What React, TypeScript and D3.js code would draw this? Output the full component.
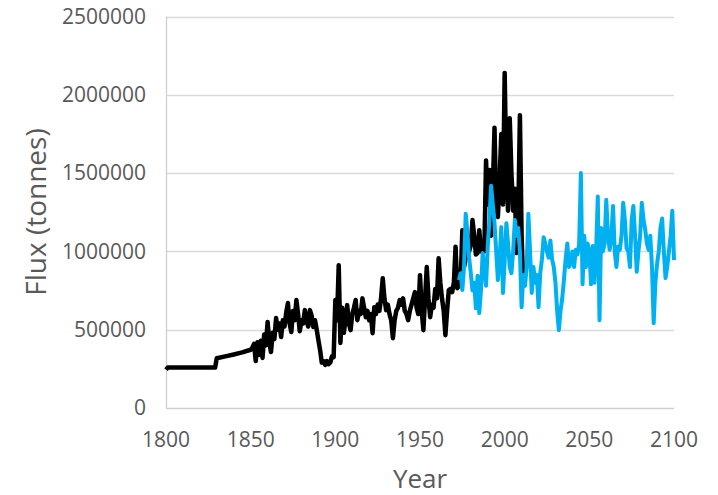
import React, { useEffect, useRef } from "react";
import * as d3 from "d3";

// Historical flux (black), thousands of tonnes
const histYears = [
  1800, 1801, 1829, 1830, 1835, 1840, 1845, 1850, 1851, 1852, 1853, 1854, 1855, 1856, 1857, 1858, 1859,
  1860, 1861, 1862, 1863, 1864, 1865, 1866, 1867, 1868, 1869, 1870, 1871, 1872, 1873, 1874, 1875, 1876,
  1877, 1878, 1879, 1880, 1881, 1882, 1883, 1884, 1885, 1886, 1887, 1888, 1889, 1890, 1891, 1892, 1893,
  1894, 1895, 1896, 1897, 1898, 1899, 1900, 1901, 1902, 1903, 1904, 1905, 1906, 1907, 1908, 1909, 1910,
  1911, 1912, 1913, 1914, 1915, 1916, 1917, 1918, 1919, 1920, 1921, 1922, 1923, 1924, 1925, 1926, 1927,
  1928, 1929, 1930, 1931, 1932, 1933, 1934, 1935, 1936, 1937, 1938, 1939, 1940, 1941, 1942, 1943, 1944,
  1945, 1946, 1947, 1948, 1949, 1950, 1951, 1952, 1953, 1954, 1955, 1956, 1957, 1958, 1959, 1960, 1961,
  1962, 1963, 1964, 1965, 1966, 1967, 1968, 1969, 1970, 1971, 1972, 1973, 1974, 1975, 1976, 1977, 1978,
  1979, 1980, 1981, 1982, 1983, 1984, 1985, 1986, 1987, 1988, 1989, 1990, 1991, 1992, 1993, 1994, 1995,
  1996, 1997, 1998, 1999, 2000, 2001, 2002, 2003, 2004, 2005, 2006, 2007, 2008, 2009, 2010, 2011,
];
const histFlux = [
  245, 258, 258, 318, 330, 342, 355, 372, 385, 410, 300, 420, 340, 430, 320, 470, 400,
  549, 420, 357, 480, 440, 574, 500, 540, 453, 560, 520, 610, 670, 540, 485, 620, 560,
  689, 600, 490, 560, 540, 625, 560, 520, 625, 590, 517, 560, 500, 434, 370, 290, 300,
  275, 300, 280, 290, 330, 325, 690, 560, 912, 415, 640, 480, 560, 657, 540, 497, 600,
  640, 690, 561, 620, 600, 700, 640, 580, 620, 560, 600, 478, 644, 600, 660, 620, 700,
  829, 700, 625, 660, 600, 560, 446, 560, 620, 640, 690, 660, 700, 620, 600, 561, 620,
  660, 700, 740, 640, 600, 848, 620, 497, 700, 900, 700, 580, 660, 640, 760, 700, 956,
  800, 700, 620, 465, 620, 753, 760, 740, 800, 1030, 765, 780, 800, 1135, 900, 960, 1090,
  1000, 1040, 1200, 1100, 980, 989, 1135, 1000, 1060, 1000, 1580, 1300, 1520, 1100, 1400, 1790, 1300,
  1220, 1450, 1750, 1300, 2140, 1500, 1260, 1850, 1500, 1260, 1400, 990, 1200, 1870, 1100, 770,
];

// Projected flux (blue), 1973-2100, thousands of tonnes
const projYears = d3.range(1973, 2101);
const projFlux = [
  817, 861, 753, 900, 1240, 1120, 960, 861, 750, 800, 637, 845, 606, 750, 989, 900, 780,
  1030, 1200, 1420, 1300, 1180, 1000, 817, 950, 1155, 735, 940, 1180, 1050, 900, 861, 1000,
  1200, 1100, 1150, 1000, 644, 850, 780, 900, 1240, 1000, 735, 900, 800, 850, 644, 860,
  950, 1090, 1050, 1000, 960, 1070, 950, 900, 800, 620, 497, 620, 700, 817, 950, 1050,
  900, 925, 1000, 900, 1010, 980, 1050, 1500, 790, 1100, 900, 1050, 1000, 790, 1035, 800,
  1000, 1350, 561, 1150, 1000, 1050, 1330, 1100, 1010, 1100, 1290, 1000, 900, 1030, 1010, 1100,
  1310, 1200, 1020, 1000, 900, 1200, 1290, 1100, 870, 1000, 1100, 1310, 1200, 1140, 1050, 1010,
  1100, 900, 542, 800, 920, 1000, 1150, 1210, 1000, 830, 900, 1000, 1100, 1260, 944,
];

const yTicks = [0, 500000, 1000000, 1500000, 2000000, 2500000];
const xTicks = [1800, 1850, 1900, 1950, 2000, 2050, 2100];

const W = 718;
const H = 495;
const FONT = "'Open Sans', 'Liberation Sans', sans-serif";

const App: React.FC = () => {
  const svgRef = useRef<SVGSVGElement>(null);

  useEffect(() => {
    if (!svgRef.current) return;
    const svg = d3.select(svgRef.current);
    svg.selectAll("*").remove();

    const x = d3.scaleLinear().domain([1800, 2100]).range([166, 674]);
    const y = d3.scaleLinear().domain([0, 2500000]).range([408, 16.5]);

    // gridlines
    svg
      .append("g")
      .selectAll("line")
      .data(yTicks.slice(1))
      .enter()
      .append("line")
      .attr("x1", x(1800))
      .attr("x2", x(2100))
      .attr("y1", (d) => Math.round(y(d)) + 0.5)
      .attr("y2", (d) => Math.round(y(d)) + 0.5)
      .attr("stroke", "#d9d9d9")
      .attr("stroke-width", 1.3);

    // axis lines
    svg
      .append("line")
      .attr("x1", x(1800))
      .attr("x2", x(2100))
      .attr("y1", Math.round(y(0)) + 0.5)
      .attr("y2", Math.round(y(0)) + 0.5)
      .attr("stroke", "#d0d0d0")
      .attr("stroke-width", 1.3);
    svg
      .append("line")
      .attr("x1", Math.round(x(1800)) + 0.5)
      .attr("x2", Math.round(x(1800)) + 0.5)
      .attr("y1", y(0))
      .attr("y2", y(2500000))
      .attr("stroke", "#d0d0d0")
      .attr("stroke-width", 1.3);

    // tick labels
    svg
      .append("g")
      .selectAll("text")
      .data(yTicks)
      .enter()
      .append("text")
      .attr("x", 146)
      .attr("y", (d) => y(d))
      .attr("dy", "0.35em")
      .attr("text-anchor", "end")
      .attr("fill", "#595959")
      .style("font-family", FONT)
      .style("font-size", "21px")
      .text((d) => String(d));

    svg
      .append("g")
      .selectAll("text")
      .data(xTicks)
      .enter()
      .append("text")
      .attr("x", (d) => x(d))
      .attr("y", 440)
      .attr("dy", "0.35em")
      .attr("text-anchor", "middle")
      .attr("fill", "#595959")
      .style("font-family", FONT)
      .style("font-size", "21px")
      .text((d) => String(d));

    // axis titles
    svg
      .append("text")
      .attr("x", (x(1800) + x(2100)) / 2)
      .attr("y", 488)
      .attr("text-anchor", "middle")
      .attr("fill", "#595959")
      .style("font-family", FONT)
      .style("font-size", "26px")
      .text("Year");

    svg
      .append("text")
      .attr("transform", "translate(46,212) rotate(-90)")
      .attr("text-anchor", "middle")
      .attr("fill", "#595959")
      .style("font-family", FONT)
      .style("font-size", "28px")
      .text("Flux (tonnes)");

    const line = d3
      .line<[number, number]>()
      .x((d) => x(d[0]))
      .y((d) => y(d[1] * 1000));

    const hist = histYears.map((yr, i) => [yr, histFlux[i]] as [number, number]);
    const proj = projYears.map((yr, i) => [yr, projFlux[i]] as [number, number]);

    svg
      .append("path")
      .datum(hist)
      .attr("fill", "none")
      .attr("stroke", "#000000")
      .attr("stroke-width", 4.5)
      .attr("stroke-linejoin", "round")
      .attr("d", line);

    svg
      .append("path")
      .datum(proj)
      .attr("fill", "none")
      .attr("stroke", "#00b0f0")
      .attr("stroke-width", 4)
      .attr("stroke-linejoin", "round")
      .attr("d", line);
  }, []);

  return (
    <div style={{ position: "absolute", left: 0, top: 0 }}>
      <svg ref={svgRef} width={W} height={H} style={{ display: "block", background: "#fff" }} />
    </div>
  );
};

export default App;
